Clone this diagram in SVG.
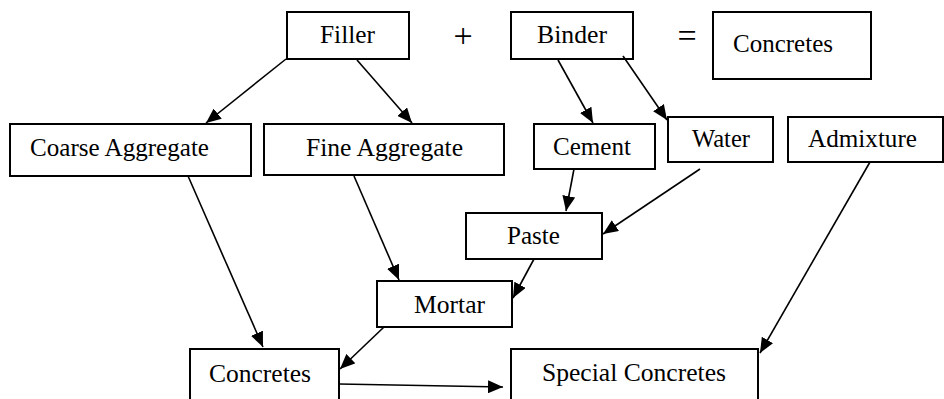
<svg xmlns="http://www.w3.org/2000/svg" width="944" height="399" viewBox="0 0 944 399">
<style>
.box{fill:#fff;stroke:#000;stroke-width:2}
text{font-family:"Liberation Serif","Times New Roman",serif;font-size:25px;fill:#000}
.op{font-size:34px}
.c line{stroke:#000;stroke-width:1.6;marker-end:url(#ah)}
</style>
<defs>
<marker id="ah" markerUnits="userSpaceOnUse" markerWidth="16" markerHeight="13" refX="15" refY="6.5" orient="auto">
<path d="M0,0 L15,6.5 L0,13 z" fill="#000"/>
</marker>
</defs>
<rect width="944" height="399" fill="#fff"/>
<g id="filler"><rect class="box" x="287" y="12" width="122" height="47"/><text x="320" y="43" textLength="55" lengthAdjust="spacingAndGlyphs">Filler</text></g>
<text class="op" x="463" y="47" text-anchor="middle">+</text>
<g id="binder"><rect class="box" x="511" y="12" width="122" height="47"/><text x="537" y="43" textLength="70" lengthAdjust="spacingAndGlyphs">Binder</text></g>
<text class="op" x="687" y="47" text-anchor="middle">=</text>
<g id="concretes-top"><rect class="box" x="713" y="12" width="158" height="67"/><text x="733" y="52" textLength="100" lengthAdjust="spacingAndGlyphs">Concretes</text></g>
<g id="coarse"><rect class="box" x="10" y="124" width="241" height="52"/><text x="30" y="156" textLength="179" lengthAdjust="spacingAndGlyphs">Coarse Aggregate</text></g>
<g id="fine"><rect class="box" x="264" y="124" width="240" height="51"/><text x="306" y="156" textLength="157" lengthAdjust="spacingAndGlyphs">Fine Aggregate</text></g>
<g id="cement"><rect class="box" x="534" y="124" width="121" height="45"/><text x="553" y="155" textLength="78" lengthAdjust="spacingAndGlyphs">Cement</text></g>
<g id="water"><rect class="box" x="668" y="117" width="105" height="45"/><text x="692" y="147" textLength="58" lengthAdjust="spacingAndGlyphs">Water</text></g>
<g id="admixture"><rect class="box" x="788" y="117" width="155" height="45"/><text x="808" y="147" textLength="109" lengthAdjust="spacingAndGlyphs">Admixture</text></g>
<g id="paste"><rect class="box" x="466" y="213" width="136" height="46"/><text x="507" y="244" textLength="53" lengthAdjust="spacingAndGlyphs">Paste</text></g>
<g id="mortar"><rect class="box" x="377" y="281" width="135" height="46"/><text x="414" y="313" textLength="71" lengthAdjust="spacingAndGlyphs">Mortar</text></g>
<g id="concretes"><rect class="box" x="190" y="349" width="149" height="60"/><text x="209" y="382" textLength="102" lengthAdjust="spacingAndGlyphs">Concretes</text></g>
<g id="special"><rect class="box" x="511" y="349" width="247" height="60"/><text x="542" y="381" textLength="184" lengthAdjust="spacingAndGlyphs">Special Concretes</text></g>
<g id="connectors" class="c">
<line x1="286" y1="59" x2="206" y2="123"/>
<line x1="357" y1="60" x2="412" y2="123"/>
<line x1="558" y1="60" x2="593" y2="123"/>
<line x1="623" y1="56" x2="667" y2="120"/>
<line x1="188" y1="176" x2="263" y2="347"/>
<line x1="354" y1="176" x2="399" y2="280"/>
<line x1="574" y1="169" x2="566" y2="211"/>
<line x1="700" y1="169" x2="603" y2="234"/>
<line x1="534" y1="259" x2="513" y2="298"/>
<line x1="384" y1="327" x2="340" y2="369"/>
<line x1="339" y1="384" x2="503" y2="387"/>
<line x1="870" y1="162" x2="760" y2="353"/>
</g>
</svg>
